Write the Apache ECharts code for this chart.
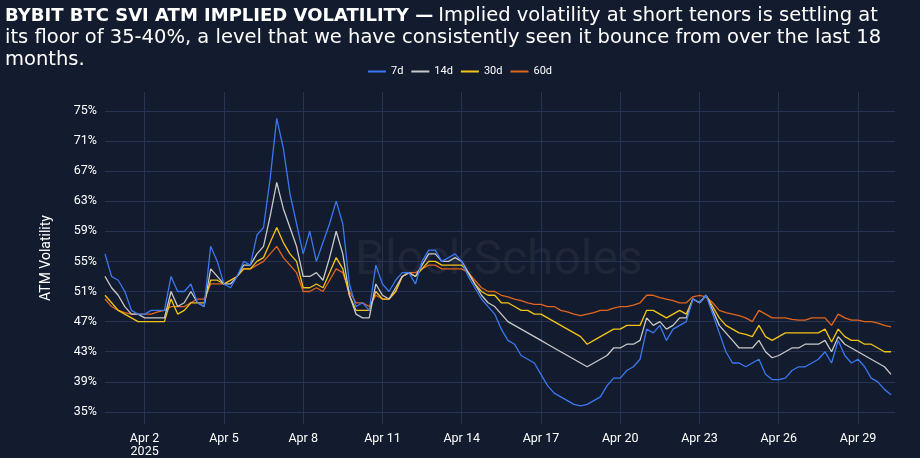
<!DOCTYPE html>
<html>
<head>
<meta charset="utf-8">
<script src="https://cdn.jsdelivr.net/npm/echarts@6/dist/echarts.min.js"></script>
<style>
  html, body { margin: 0; padding: 0; background: #131b2e; }
  #chart { width: 920px; height: 458px; }
</style>
</head>
<body>
<div id="chart"></div>
<script>
// x in days: Mar 30 = 0, so Apr N = N + 1; samples every 6h from Mar 31 12:00
var startDay = 1.5;
var stepDay = 0.25;
var xTicks = [3, 6, 9, 12, 15, 18, 21, 24, 27, 30];
var yTicks = [35, 39, 43, 47, 51, 55, 59, 63, 67, 71, 75];
var seriesNames = ['7d', '14d', '30d', '60d'];

var v7d = [56,53,52.5,51,48.5,48,48,48.5,48.5,48.5,53,51,51,52,49.5,49,57,55,52,51.5,53,55,54.5,58.5,59.5,66,74,70,64,60,56,59,55,57.5,60,63,60,52,49,49.5,48.5,54.5,52,51,52.5,53.5,53.5,52,55,56.5,56.5,55,55.5,56,
  55,53,51.5,50,49,48,46,44.5,44,42.5,42,41.5,40,38.5,37.5,37,36.5,36,35.8,36,36.5,37,38.5,39.5,39.5,40.5,41,42,46,45.5,46.5,44.5,46,46.5,47,50,49.5,50.5,48,45.5,43,41.5,41.5,41,41.5,42,40,39.3,39.3,39.5,40.5,41,41,41.5,42,43,41.5,44.5,42.5,41.5,42,41,39.5,39,38,37.3];
var v14d = [53,51.5,50.5,49,48,48,47.5,47.5,47.5,47.5,51,49,49.5,51,49.5,49,54,53,52,52,53,54.5,54.5,56,57,61,65.5,62,59.5,57,53,53,53.5,52.5,55.5,59,56,50.5,48,47.5,47.5,52,50.5,50,51.5,53,53.5,53,54.5,56,56,55,55,55.5,
  55,53.5,52,50.5,49.5,49,48,47,46.5,46,45.5,45,44.5,44,43.5,43,42.5,42,41.5,41,41.5,42,42.5,43.5,43.5,44,44,44.5,47.5,46.5,47,46,46.5,47.5,47.5,50,49.5,50.5,48.5,46.5,45.5,44.5,43.5,43.5,43.5,44.5,43,42.2,42.5,43,43.5,43.5,44,44,44,44.5,43,45,44,43.5,43,42.5,42,41.5,41,40];
var v30d = [50.5,49.5,48.5,48,47.5,47,47,47,47,47,50,48,48.5,49.5,49.5,49.5,52.5,52.5,52,52.5,53,54,54,55,55.5,57.5,59.5,57.5,56,55,51.5,51.5,52,51.5,53.5,55.5,54,50.5,48.5,48.5,48.5,51,50,50,51,53,53.5,53,54,55,55,54.5,54.5,54.5,
  54.5,53.5,52,51,50.5,50.5,49.5,49.5,49,48.5,48.5,48,48,47.5,47,46.5,46,45.5,45,44,44.5,45,45.5,46,46,46.5,46.5,46.5,48.5,48.5,48,47.5,48,48.5,48,50,49.5,50.5,49,47.5,46.5,46,45.5,45.3,45,46.5,45,44.5,45,45.5,45.5,45.5,45.5,45.5,45.5,46,44.3,46,45,44.5,44.5,44,44,43.5,43,43];
var v60d = [50,49,48.5,48.2,48,48,48,48,48.3,48.5,49,49,49,49.5,50,50,52,52,52,52.5,53,54,54,54.5,55,56,57,55.5,54.5,53.5,51,51,51.5,51,52.5,54,53.5,51,49.5,49.5,49,50.5,50,50,51,53,53.5,53.5,54,54.5,54.5,54,54,54,
  54,53.5,52.5,51.5,51,51,50.5,50.3,50,49.8,49.5,49.3,49.3,49,49,48.5,48.3,48,47.8,48,48.2,48.5,48.5,48.8,49,49,49.2,49.5,50.5,50.5,50.2,50,49.8,49.5,49.5,50.3,50.5,50.3,49.5,48.5,48.2,48,47.8,47.5,47,48.5,48,47.5,47.5,47.5,47.3,47.2,47.2,47.5,47.5,47.5,46.5,48,47.5,47.2,47.2,47,47,46.8,46.5,46.3];

var colors = ['#3b78f0', '#c9c9c9', '#f3c416', '#e0661c'];

function toPoints(arr) {
  return arr.map(function (v, i) { return [startDay + i * stepDay, v]; });
}

var chart = echarts.init(document.getElementById('chart'));
var option = {
  backgroundColor: '#131b2e',
  animation: false,
  title: {
    left: 0,
    top: 0,
    text: '{b|BYBIT BTC SVI ATM IMPLIED VOLATILITY —} {n|Implied volatility at short tenors is settling at}\n{n|its floor of 35-40%, a level that we have consistently seen it bounce from over the last 18}\n{n|months.}',
    textStyle: {
      rich: {
        b: { fontFamily: 'DejaVu Sans', fontWeight: 'bold', fontSize: 18, color: '#ffffff', lineHeight: 22 },
        n: { fontFamily: 'DejaVu Sans', fontWeight: 'normal', fontSize: 19.5, color: '#ffffff', lineHeight: 22 }
      }
    }
  },
  legend: {
    data: seriesNames,
    top: 61,
    left: 'center',
    itemWidth: 18,
    itemHeight: 2,
    itemGap: 8,
    icon: 'rect',
    textStyle: { color: '#ffffff', fontSize: 11, fontFamily: 'Roboto' }
  },
  graphic: [{
    type: 'text',
    left: 355,
    top: 238,
    silent: true,
    style: { text: 'BlockScholes', fontSize: 48, fontFamily: 'Roboto', fill: 'rgba(255,255,255,0.05)' }
  }],
  grid: { left: 105, right: 25, top: 92, bottom: 30 },
  xAxis: {
    type: 'value',
    min: 1.5,
    max: 31.4,
    axisLine: { show: false },
    axisTick: { show: false, customValues: xTicks },
    splitLine: { show: true, lineStyle: { color: '#263352', width: 1 } },
    axisLabel: {
      customValues: xTicks,
      color: '#ffffff',
      fontSize: 12.5,
      fontFamily: 'Roboto',
      formatter: function (v) {
        var s = 'Apr ' + Math.round(v - 1);
        return v === 3 ? s + '\n2025' : s;
      }
    }
  },
  yAxis: {
    type: 'value',
    min: 33.4,
    max: 77.5,
    name: 'ATM Volatility',
    nameLocation: 'middle',
    nameGap: 52,
    nameTextStyle: { color: '#ffffff', fontSize: 14, fontFamily: 'Roboto' },
    axisLine: { show: false },
    axisTick: { show: false, customValues: yTicks },
    splitLine: { show: true, lineStyle: { color: '#263352', width: 1 } },
    axisLabel: {
      customValues: yTicks,
      color: '#ffffff',
      fontSize: 12.5,
      fontFamily: 'Roboto',
      formatter: '{value}%'
    }
  },
  series: [v7d, v14d, v30d, v60d].map(function (arr, k) {
    return {
      name: seriesNames[k],
      type: 'line',
      data: toPoints(arr),
      showSymbol: false,
      lineStyle: { width: 1.3, color: colors[k] },
      itemStyle: { color: colors[k] },
      z: 10 - k
    };
  })
};
chart.setOption(option);
</script>
</body>
</html>
